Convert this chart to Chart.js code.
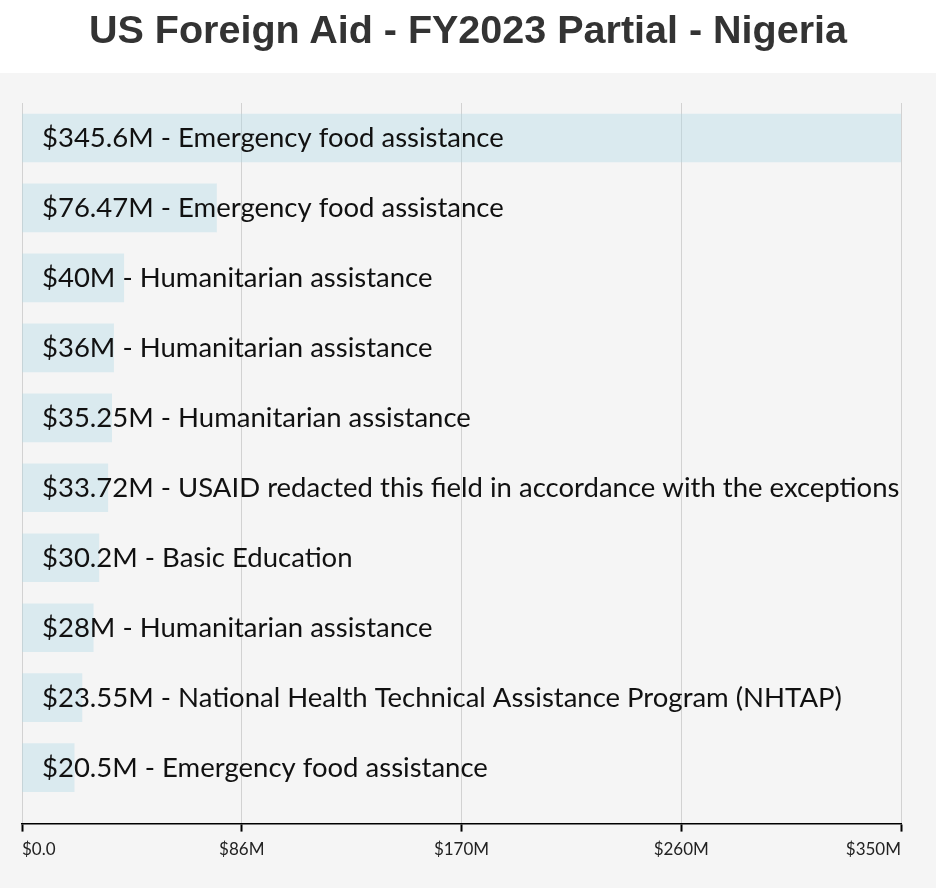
<!DOCTYPE html>
<html>
<head>
<meta charset="utf-8">
<script src="https://cdn.jsdelivr.net/npm/chart.js@4.4.1/dist/chart.umd.min.js"></script>
<style>
  html, body { margin: 0; padding: 0; background: #ffffff; }
  #wrap { width: 936px; height: 888px; position: relative; }
  #title {
    position: absolute; left: 0; top: 0; width: 936px; height: 73px;
    text-align: center; font-family: 'Liberation Sans', Arial, sans-serif;
    font-weight: bold; font-size: 39.5px; line-height: 58px; color: #333333;
    white-space: nowrap;
  }
</style>
</head>
<body>
<div id="wrap"><canvas id="c" width="936" height="888"></canvas><div id="title"></div></div>
<script>
const chartTitle = 'US Foreign Aid - FY2023 Partial - Nigeria';
const amounts = [345.6, 76.47, 40, 36, 35.25, 33.72, 30.2, 28, 23.55, 20.5];
const amountLabels = ['$345.6M', '$76.47M', '$40M', '$36M', '$35.25M', '$33.72M', '$30.2M', '$28M', '$23.55M', '$20.5M'];
const descriptions = [
  'Emergency food assistance',
  'Emergency food assistance',
  'Humanitarian assistance',
  'Humanitarian assistance',
  'Humanitarian assistance',
  'USAID redacted this field in accordance with the exceptions outlined in the Foreign Assistance Data Review Findings Report.',
  'Basic Education',
  'Humanitarian assistance',
  'National Health Technical Assistance Program (NHTAP)',
  'Emergency food assistance'
];
const tickValues = [0, 86.4, 172.8, 259.2, 345.6];
const tickLabels = ['$0.0', '$86M', '$170M', '$260M', '$350M'];

document.getElementById('title').textContent = chartTitle;

const bgPlugin = {
  id: 'bg',
  beforeDraw(chart) {
    const ctx = chart.ctx;
    ctx.save();
    ctx.fillStyle = '#ffffff';
    ctx.fillRect(0, 0, chart.width, chart.height);
    ctx.fillStyle = '#f5f5f5';
    ctx.fillRect(0, 73, chart.width, chart.height - 73);
    ctx.restore();
  }
};

const labelPlugin = {
  id: 'barLabels',
  afterDatasetsDraw(chart) {
    const ctx = chart.ctx;
    const area = chart.chartArea;
    const meta = chart.getDatasetMeta(0);
    ctx.save();
    ctx.beginPath();
    ctx.rect(area.left, area.top, area.right - area.left, area.bottom - area.top);
    ctx.clip();
    ctx.font = '27.5px Lato';
    ctx.fillStyle = '#111111';
    ctx.textBaseline = 'middle';
    ctx.textAlign = 'left';
    meta.data.forEach((bar, i) => {
      ctx.fillText(amountLabels[i] + ' - ' + descriptions[i], area.left + 20, bar.y);
    });
    ctx.restore();
  }
};

new Chart(document.getElementById('c'), {
  type: 'bar',
  data: {
    datasets: [{
      data: amounts.map((v, i) => ({ x: v, y: i })),
      backgroundColor: 'rgba(173,216,230,0.38)',
      borderWidth: 0,
      barThickness: 48
    }]
  },
  options: {
    indexAxis: 'y',
    responsive: false,
    animation: false,
    layout: { padding: { left: 22, right: 35, top: 103, bottom: 20 } },
    plugins: {
      legend: { display: false },
      tooltip: { enabled: false },
      title: { display: false }
    },
    scales: {
      y: {
        type: 'linear',
        display: false,
        reverse: true,
        offset: false,
        grace: 0,
        min: -0.5,
        max: 9.8
      },
      x: {
        type: 'linear',
        min: 0,
        max: 345.6,
        afterBuildTicks(scale) {
          scale.ticks = tickValues.map(v => ({ value: v }));
        },
        grid: {
          color: '#d2d2d2',
          lineWidth: 1,
          tickColor: '#000000',
          tickLength: 8,
          tickWidth: 2
        },
        border: { color: '#000000', width: 1.5 },
        ticks: {
          align: 'inner',
          color: '#222222',
          padding: 8,
          font: { family: 'Lato', size: 17 },
          callback: (value, index) => tickLabels[index]
        }
      }
    }
  },
  plugins: [bgPlugin, labelPlugin]
});
</script>
</body>
</html>
